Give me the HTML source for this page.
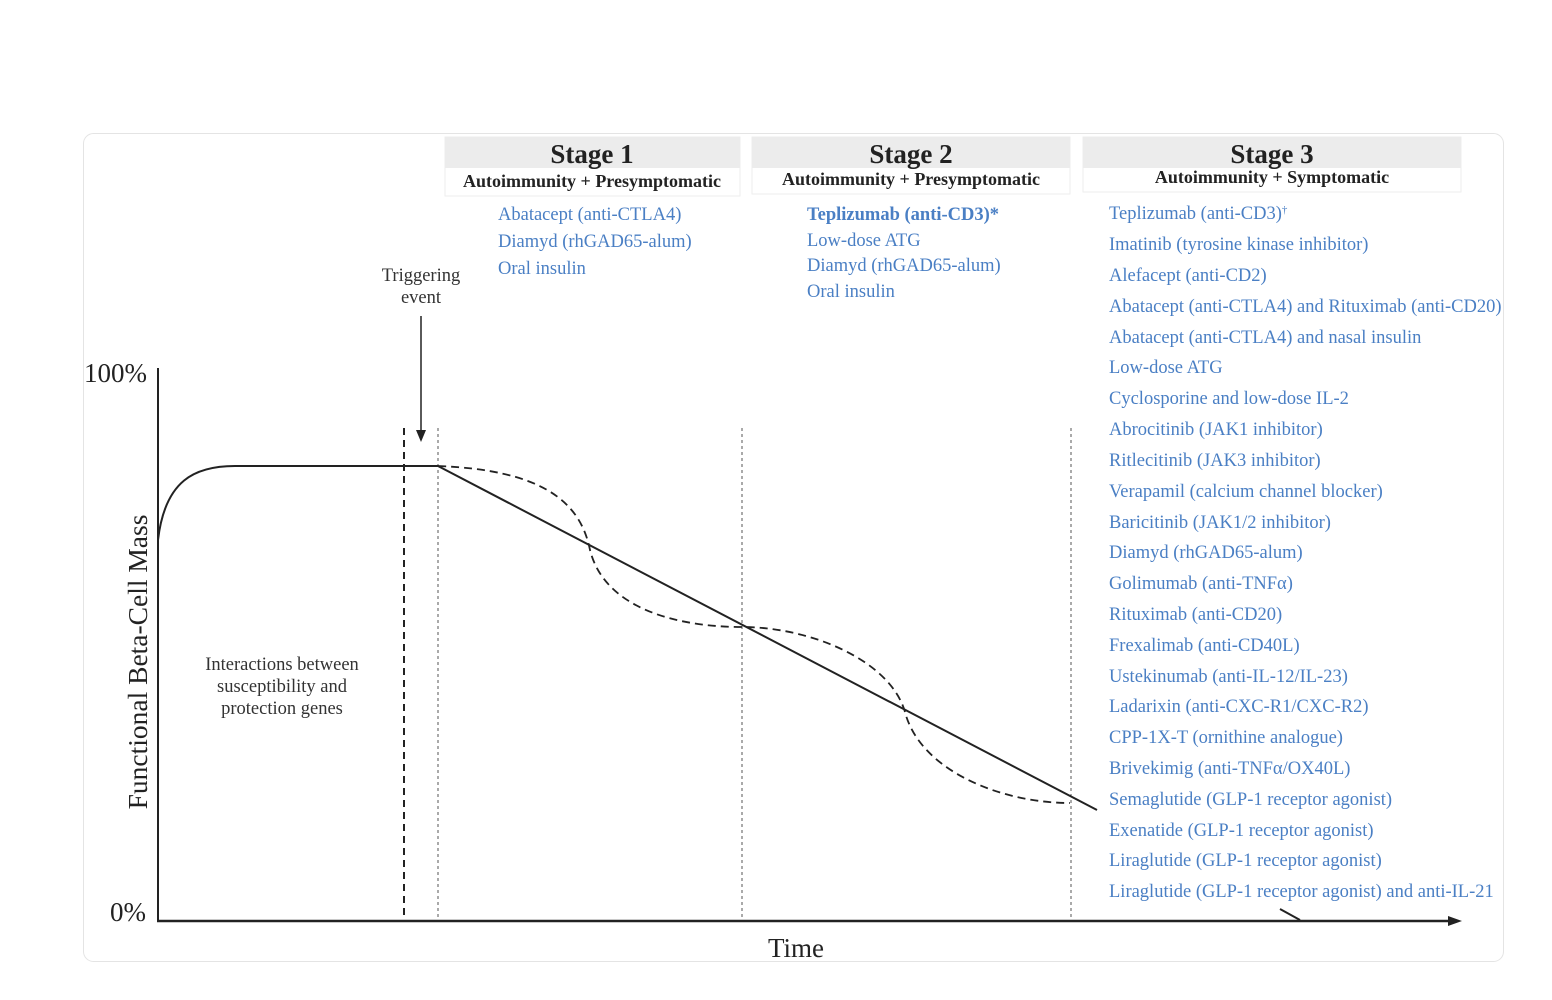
<!DOCTYPE html>
<html><head><meta charset="utf-8"><style>
html,body{margin:0;padding:0;background:#fff;}
svg{display:block;font-family:"Liberation Serif",serif;}
.b{fill:#4a7fc4;font-size:18.5px;}
</style></head><body>
<svg width="1552" height="1000" viewBox="0 0 1552 1000">
<rect x="83.5" y="133.5" width="1420" height="828" rx="10" fill="#fff" stroke="#e4e4e4"/>
<rect x="445" y="137" width="295" height="59" fill="#fff" stroke="#eee"/>
<rect x="445" y="137" width="295" height="31" fill="#ececec"/>
<rect x="752" y="137" width="318" height="57" fill="#fff" stroke="#eee"/>
<rect x="752" y="137" width="318" height="31" fill="#ececec"/>
<rect x="1083" y="137" width="378" height="55" fill="#fff" stroke="#eee"/>
<rect x="1083" y="137" width="378" height="31" fill="#ececec"/>
<g font-weight="bold" fill="#222" text-anchor="middle">
<text x="592" y="163" font-size="27">Stage 1</text>
<text x="592" y="187" font-size="18">Autoimmunity + Presymptomatic</text>
<text x="911" y="163" font-size="27">Stage 2</text>
<text x="911" y="185" font-size="18">Autoimmunity + Presymptomatic</text>
<text x="1272" y="163" font-size="27">Stage 3</text>
<text x="1272" y="183" font-size="18">Autoimmunity + Symptomatic</text>
</g>
<g>
<text class="b" x="498" y="220">Abatacept (anti-CTLA4)</text>
<text class="b" x="498" y="247">Diamyd (rhGAD65-alum)</text>
<text class="b" x="498" y="274">Oral insulin</text>
<text class="b" x="807" y="220" font-weight="bold">Teplizumab (anti-CD3)*</text>
<text class="b" x="807" y="246">Low-dose ATG</text>
<text class="b" x="807" y="271">Diamyd (rhGAD65-alum)</text>
<text class="b" x="807" y="297">Oral insulin</text>
</g>
<g>
<text class="b" x="1109" y="219">Teplizumab (anti-CD3)<tspan font-size="11" dy="-6">†</tspan></text>
<text class="b" x="1109" y="250">Imatinib (tyrosine kinase inhibitor)</text>
<text class="b" x="1109" y="281">Alefacept (anti-CD2)</text>
<text class="b" x="1109" y="312">Abatacept (anti-CTLA4) and Rituximab (anti-CD20)</text>
<text class="b" x="1109" y="343">Abatacept (anti-CTLA4) and nasal insulin</text>
<text class="b" x="1109" y="373">Low-dose ATG</text>
<text class="b" x="1109" y="404">Cyclosporine and low-dose IL-2</text>
<text class="b" x="1109" y="435">Abrocitinib (JAK1 inhibitor)</text>
<text class="b" x="1109" y="466">Ritlecitinib (JAK3 inhibitor)</text>
<text class="b" x="1109" y="497">Verapamil (calcium channel blocker)</text>
<text class="b" x="1109" y="528">Baricitinib (JAK1/2 inhibitor)</text>
<text class="b" x="1109" y="558">Diamyd (rhGAD65-alum)</text>
<text class="b" x="1109" y="589">Golimumab (anti-TNFα)</text>
<text class="b" x="1109" y="620">Rituximab (anti-CD20)</text>
<text class="b" x="1109" y="651">Frexalimab (anti-CD40L)</text>
<text class="b" x="1109" y="682">Ustekinumab (anti-IL-12/IL-23)</text>
<text class="b" x="1109" y="712">Ladarixin (anti-CXC-R1/CXC-R2)</text>
<text class="b" x="1109" y="743">CPP-1X-T (ornithine analogue)</text>
<text class="b" x="1109" y="774">Brivekimig (anti-TNFα/OX40L)</text>
<text class="b" x="1109" y="805">Semaglutide (GLP-1 receptor agonist)</text>
<text class="b" x="1109" y="836">Exenatide (GLP-1 receptor agonist)</text>
<text class="b" x="1109" y="866">Liraglutide (GLP-1 receptor agonist)</text>
<text class="b" x="1109" y="897">Liraglutide (GLP-1 receptor agonist) and anti-IL-21</text>
</g>
<g stroke="#222" fill="none">
<line x1="158" y1="368" x2="158" y2="922" stroke-width="2"/>
<line x1="157" y1="921" x2="1452" y2="921" stroke-width="2.5"/>
<line x1="1280" y1="909" x2="1300" y2="920" stroke-width="2"/>
<line x1="421" y1="316" x2="421" y2="432" stroke-width="1.5"/>
<line x1="404" y1="428" x2="404" y2="918" stroke-width="2" stroke-dasharray="7,5"/>
<line x1="438" y1="428" x2="438" y2="918" stroke-width="1" stroke-dasharray="3,3" stroke="#555"/>
<line x1="742" y1="428" x2="742" y2="918" stroke-width="1" stroke-dasharray="3,3" stroke="#555"/>
<line x1="1071" y1="428" x2="1071" y2="918" stroke-width="1" stroke-dasharray="3,3" stroke="#555"/>
<path d="M158 540 C165 480 195 466 235 466 L438 466 L1097 810" stroke-width="2"/>
<path d="M438 466 C540 470 580 500 590 550 C605 610 680 627 742 627 C810 627 890 660 905 712 C920 770 1000 803 1070 803" stroke-width="1.8" stroke-dasharray="8,5"/>
</g>
<polygon points="1462,921 1448,916 1448,926" fill="#222"/>
<polygon points="421,442 416,430 426,430" fill="#222"/>
<g fill="#222">
<text x="84" y="382" font-size="27">100%</text>
<text x="110" y="921" font-size="27">0%</text>
<text x="796" y="957" font-size="27" text-anchor="middle">Time</text>
<text transform="translate(147,662) rotate(-90)" font-size="27.5" text-anchor="middle">Functional Beta-Cell Mass</text>
<text x="421" y="281" font-size="18.5" text-anchor="middle" fill="#333">Triggering</text>
<text x="421" y="303" font-size="18.5" text-anchor="middle" fill="#333">event</text>
<text x="282" y="670" font-size="18.5" text-anchor="middle" fill="#333">Interactions between</text>
<text x="282" y="692" font-size="18.5" text-anchor="middle" fill="#333">susceptibility and</text>
<text x="282" y="714" font-size="18.5" text-anchor="middle" fill="#333">protection genes</text>
</g>
</svg>
</body></html>
